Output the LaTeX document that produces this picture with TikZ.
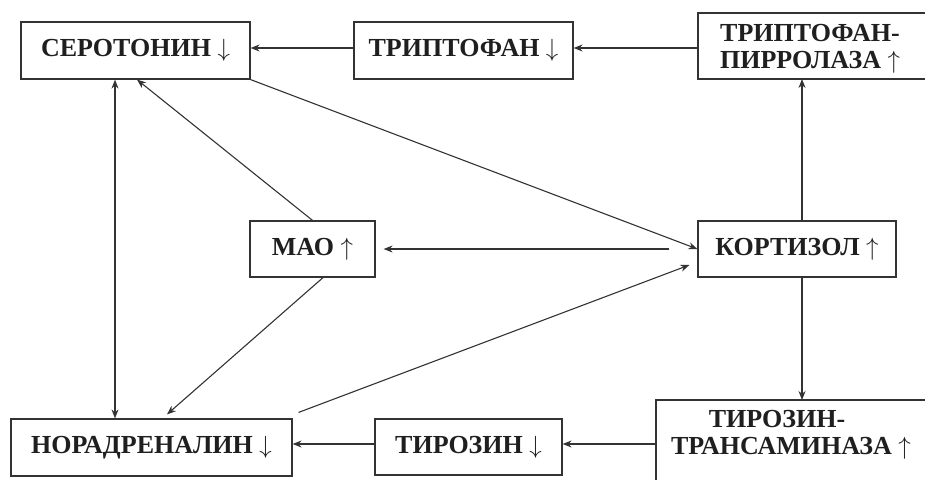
\documentclass[tikz,border=0pt]{standalone}
\usepackage{fontspec}
\setmainfont{Liberation Serif}
\usetikzlibrary{arrows.meta}
\newcommand{\dn}{\ \(\mathbf{\downarrow}\)}
\newcommand{\up}{\ \(\mathbf{\uparrow}\)}
\tikzset{
  box/.style={draw=black!80, line width=1.2pt, inner sep=0pt, font=\fontsize{26}{26}\selectfont\bfseries, text=black!88, align=center},
  txt/.style={inner sep=0pt, font=\fontsize{26}{27.5}\selectfont\bfseries, text=black!88, align=center},
  arr/.style={draw=black!80, line width=1.1pt, -{Stealth[length=9pt,width=7pt]}},
  darr/.style={draw=black!80, line width=1.1pt, {Stealth[length=9pt,width=7pt]}-{Stealth[length=9pt,width=7pt]}}
}
\begin{document}
\begin{tikzpicture}[x=1pt,y=-1pt]
\path[use as bounding box, fill=white] (0,0) rectangle (925,479);
\begin{scope}
\clip (0,0) rectangle (925,479);
\node[box, minimum width=229pt, minimum height=57pt] (ser) at (135.5,50.5) {СЕРОТОНИН\dn};
\node[box, minimum width=219pt, minimum height=57pt] (tri) at (463.5,50.5) {ТРИПТОФАН\dn};
\draw[draw=black!80, line width=1.2pt] (698,13) rectangle (940,79);
\coordinate (pirrS) at (802,79);
\coordinate (pirrW) at (698,48);
\node[txt] (pirr) at (810,49) {ТРИПТОФАН-\\ПИРРОЛАЗА\up};
\node[box, minimum width=125pt, minimum height=56pt] (mao) at (312.5,249) {МАО\up};
\node[box, minimum width=198pt, minimum height=56pt] (kort) at (797,249) {КОРТИЗОЛ\up};
\node[box, minimum width=281pt, minimum height=57pt] (nor) at (151.5,447.5) {НОРАДРЕНАЛИН\dn};
\node[box, minimum width=187pt, minimum height=56pt] (tir) at (468.5,447) {ТИРОЗИН\dn};
\draw[draw=black!80, line width=1.2pt] (656,400) rectangle (945,500);
\coordinate (transN) at (802,400);
\coordinate (transW) at (656,444);
\node[txt] (trans) at (791,435) {ТИРОЗИН-\hspace*{28pt}\\ТРАНСАМИНАЗА\up};
\end{scope}
% connectors
\draw[arr] ([yshift=2.5pt]tri.west) -- ([yshift=2.5pt]ser.east);
\draw[arr] (pirrW) -- ([yshift=2.5pt]tri.east);
\draw[arr] ([xshift=5pt]kort.north) -- (pirrS);
\draw[arr] ([xshift=5pt]kort.south) -- (transN);
\draw[arr] (transW) -- ([yshift=3pt]tir.east);
\draw[arr] ([yshift=3pt]tir.west) -- ([yshift=3.5pt]nor.east);
\draw[darr] ([xshift=-20.5pt]ser.south) -- ([xshift=-36.5pt]nor.north);
\draw[arr] (mao.north) -- ([xshift=1.5pt]ser.south);
\draw[arr] ([xshift=10.5pt]mao.south) -- ([xshift=15.5pt,yshift=4pt]nor.north);
\draw[arr] ([xshift=-28pt]kort.west) -- ([xshift=8pt]mao.east);
\draw[arr] (ser.south east) -- (kort.west);
\draw[arr] ([xshift=6pt,yshift=6pt]nor.north east) -- ([xshift=-8pt,yshift=-16pt]kort.west);
\end{tikzpicture}
\end{document}
